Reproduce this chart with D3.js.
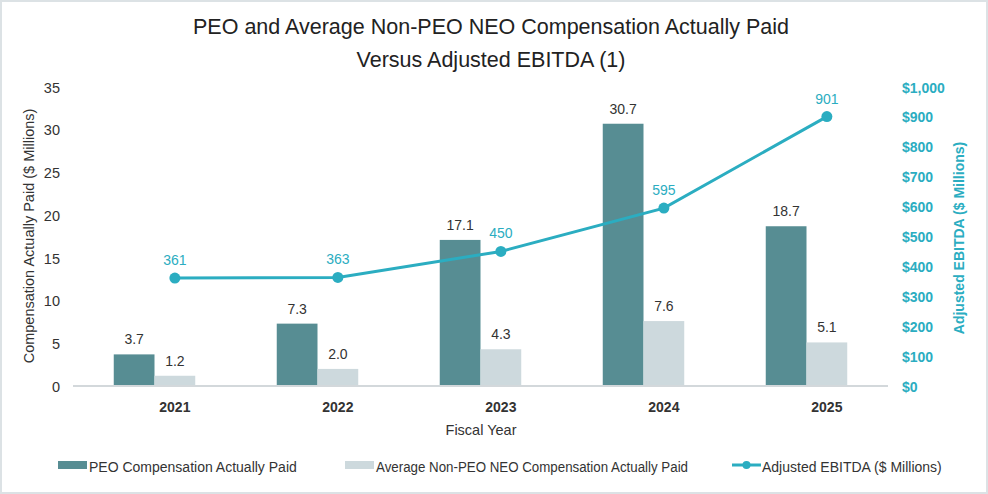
<!DOCTYPE html>
<html>
<head>
<meta charset="utf-8">
<script src="https://cdn.jsdelivr.net/npm/d3@7"></script>
<style>
  html, body { margin: 0; padding: 0; background: #fff; }
  svg { display: block; font-family: "Liberation Sans", Arial, sans-serif; }
</style>
</head>
<body>
<svg id="chart" width="988" height="494"></svg>
<script>
// --- data ---
const years = ['2021', '2022', '2023', '2024', '2025'];
const peoPaid = [3.7, 7.3, 17.1, 30.7, 18.7];
const neoPaid = [1.2, 2.0, 4.3, 7.6, 5.1];
const ebitda = [361, 363, 450, 595, 901];
const leftTicks = [0, 5, 10, 15, 20, 25, 30, 35];
const rightTicks = [0, 100, 200, 300, 400, 500, 600, 700, 800, 900, 1000];

const seriesNames = ['PEO Compensation Actually Paid', 'Average Non-PEO NEO Compensation Actually Paid', 'Adjusted EBITDA ($ Millions)'];
const peoColor = '#578d93', neoColor = '#cdd9dd', lineColor = '#2badc1', textColor = '#333';

const svg = d3.select('#chart');
const W = 988, H = 494;
const plot = {left: 73, right: 888, top: 87, bottom: 386};

// frame
svg.append('rect').attr('x', 1).attr('y', 1).attr('width', W - 2).attr('height', H - 2)
  .attr('fill', '#fff').attr('stroke', '#dce2e5').attr('stroke-width', 2);

// title
const title = svg.append('text').attr('text-anchor', 'middle').attr('fill', '#222').attr('font-size', 21.5);
title.append('tspan').attr('x', 491).attr('y', 34).text('PEO and Average Non-PEO NEO Compensation Actually Paid');
title.append('tspan').attr('x', 491).attr('y', 67).text('Versus Adjusted EBITDA (1)');

// scales
const x = d3.scaleBand().domain(years).range([plot.left, plot.right]).paddingInner(0.5).paddingOuter(0.25);
const x1 = d3.scaleBand().domain(['peo', 'neo']).range([0, x.bandwidth()]);
const y = d3.scaleLinear().domain([0, 35]).range([plot.bottom, plot.top]);
const y2 = d3.scaleLinear().domain([0, 1000]).range([plot.bottom, plot.top]);
// line points and year labels sit over the second bar of each group
const px = d => x(d) + x1('neo') + x1.bandwidth() / 2;

// left axis
const yAxis = svg.append('g').attr('transform', `translate(${plot.left},0)`)
  .call(d3.axisLeft(y).tickValues(leftTicks).tickSize(0).tickPadding(13));
yAxis.select('.domain').remove();
yAxis.selectAll('text').attr('font-size', 14.5).attr('fill', textColor).attr('font-family', null).attr('dy', '0.36em');

// right axis
const y2Axis = svg.append('g').attr('transform', `translate(${plot.right},0)`)
  .call(d3.axisRight(y2).tickValues(rightTicks).tickSize(0).tickPadding(14).tickFormat(d => '$' + d3.format(',')(d)));
y2Axis.select('.domain').remove();
y2Axis.selectAll('text').attr('font-size', 14).attr('font-weight', 'bold').attr('fill', lineColor).attr('font-family', null).attr('dy', '0.36em');

// axis titles
svg.append('text').attr('transform', `translate(34,236) rotate(-90)`).attr('text-anchor', 'middle')
  .attr('font-size', 14.5).attr('fill', textColor).text('Compensation Actually Paid ($ Millions)');
svg.append('text').attr('transform', `translate(964,238) rotate(-90)`).attr('text-anchor', 'middle')
  .attr('font-size', 14).attr('font-weight', 'bold').attr('fill', lineColor).text('Adjusted EBITDA ($ Millions)');

// bars
const bars = years.map((yr, i) => [{yr, key: 'peo', v: peoPaid[i]}, {yr, key: 'neo', v: neoPaid[i]}]).flat();
svg.append('g').selectAll('rect').data(bars).enter().append('rect')
  .attr('x', d => x(d.yr) + x1(d.key))
  .attr('y', d => y(d.v))
  .attr('width', x1.bandwidth())
  .attr('height', d => y(0) - y(d.v))
  .attr('fill', d => d.key === 'peo' ? peoColor : neoColor);
svg.append('g').selectAll('text').data(bars).enter().append('text')
  .attr('x', d => x(d.yr) + x1(d.key) + x1.bandwidth() / 2)
  .attr('y', d => y(d.v) - 10)
  .attr('text-anchor', 'middle').attr('font-size', 14).attr('fill', textColor)
  .text(d => d3.format('.1f')(d.v));

// baseline
svg.append('line').attr('x1', plot.left).attr('x2', plot.right).attr('y1', y(0)).attr('y2', y(0))
  .attr('stroke', '#d3d8db').attr('stroke-width', 2);

// year labels
svg.append('g').selectAll('text').data(years).enter().append('text')
  .attr('x', d => px(d)).attr('y', 412).attr('text-anchor', 'middle')
  .attr('font-size', 14).attr('font-weight', 'bold').attr('fill', textColor).text(d => d);
svg.append('text').attr('x', 481).attr('y', 435).attr('text-anchor', 'middle')
  .attr('font-size', 14.5).attr('fill', textColor).text('Fiscal Year');

// EBITDA line
const pts = years.map((yr, i) => ({yr, v: ebitda[i]}));
svg.append('path').datum(pts)
  .attr('fill', 'none').attr('stroke', lineColor).attr('stroke-width', 3)
  .attr('d', d3.line().x(d => px(d.yr)).y(d => y2(d.v)));
svg.append('g').selectAll('circle').data(pts).enter().append('circle')
  .attr('cx', d => px(d.yr)).attr('cy', d => y2(d.v)).attr('r', 5.5).attr('fill', lineColor);
svg.append('g').selectAll('text').data(pts).enter().append('text')
  .attr('x', d => px(d.yr)).attr('y', d => y2(d.v) - 13)
  .attr('text-anchor', 'middle').attr('font-size', 14).attr('fill', lineColor).text(d => d.v);

// legend
const lg = svg.append('g').attr('font-size', 14).attr('fill', textColor);
lg.append('rect').attr('x', 58).attr('y', 461).attr('width', 29).attr('height', 8).attr('fill', peoColor);
lg.append('text').attr('x', 89).attr('y', 472).text(seriesNames[0]);
lg.append('rect').attr('x', 345).attr('y', 461).attr('width', 29).attr('height', 8).attr('fill', neoColor);
lg.append('text').attr('x', 376).attr('y', 472).attr('textLength', 312).attr('lengthAdjust', 'spacingAndGlyphs').text(seriesNames[1]);
lg.append('line').attr('x1', 732).attr('x2', 761).attr('y1', 465).attr('y2', 465).attr('stroke', lineColor).attr('stroke-width', 3);
lg.append('circle').attr('cx', 746.5).attr('cy', 465).attr('r', 4).attr('fill', lineColor);
lg.append('text').attr('x', 762).attr('y', 472).text(seriesNames[2]);
</script>
</body>
</html>
